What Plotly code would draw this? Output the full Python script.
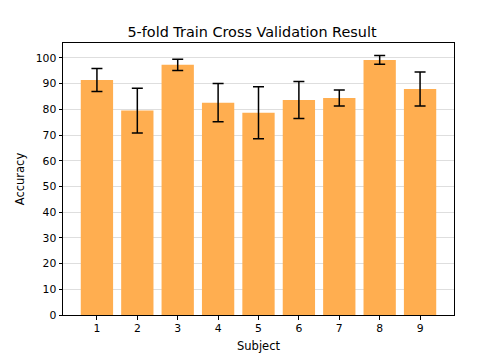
import plotly.graph_objects as go

subjects = [1, 2, 3, 4, 5, 6, 7, 8, 9]
accuracy = [91.4, 79.5, 97.3, 82.6, 78.7, 83.6, 84.4, 99.2, 87.9]
errors = [4.5, 8.7, 2.2, 7.4, 10.1, 7.2, 3.1, 1.7, 6.6]
y_ticks = list(range(0, 101, 10))

fig = go.Figure()
fig.add_trace(go.Bar(
    x=subjects, y=accuracy, width=0.8,
    marker=dict(color="rgb(255,174,80)", line=dict(width=0)),
    error_y=dict(type="data", array=errors, visible=True, color="black",
                 thickness=1.5, width=5.5),
))

axis_common = dict(showline=True, linecolor="black", linewidth=1, mirror=True,
                   ticks="outside", ticklen=3.5, tickcolor="black",
                   tickfont=dict(family="DejaVu Sans", size=10.8, color="black"),
                   zeroline=False, automargin=False)

fig.update_layout(
    width=504, height=360,
    margin=dict(l=63, r=50, t=43, b=45),
    paper_bgcolor="white", plot_bgcolor="white",
    title=dict(text="5-fold Train Cross Validation Result", x=0.5, xanchor="center",
               y=1 - 32/360, yanchor="middle",
               font=dict(family="DejaVu Sans", size=14.4, color="black")),
    xaxis=dict(range=[0.16, 9.84], tickvals=subjects, showgrid=False,
               title=dict(text="Subject", font=dict(family="DejaVu Sans", size=11.5, color="black"), standoff=7),
               **axis_common),
    yaxis=dict(range=[0, 105.8], tickvals=y_ticks, showgrid=True,
               gridcolor="rgba(0,0,0,0.13)", gridwidth=1,
               title=dict(text="Accuracy", font=dict(family="DejaVu Sans", size=11.5, color="black"), standoff=8),
               **axis_common),
    showlegend=False,
)

fig.write_html("out.html", config={"displayModeBar": False})

with open("out.html", "r", encoding="utf-8") as f:
    html = f.read()
html = html.replace("<body>", '<body style="margin:0;padding:0;">', 1)
with open("out.html", "w", encoding="utf-8") as f:
    f.write(html)
